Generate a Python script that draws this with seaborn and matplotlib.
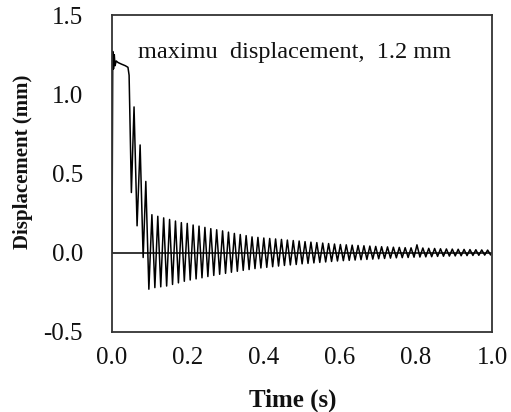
import numpy as np
import pandas as pd
import matplotlib
matplotlib.use("Agg")
import matplotlib.pyplot as plt
import seaborn as sns

# Initial response: time (s), displacement (mm)
t_early = [0.0, 0.002, 0.004, 0.006, 0.008, 0.011, 0.016, 0.025, 0.035, 0.042,
           0.045, 0.051, 0.058, 0.066, 0.074, 0.082, 0.089, 0.097]
v_early = [0.0, 1.27, 1.16, 1.25, 1.18, 1.21, 1.20, 1.19, 1.18, 1.17,
           1.12, 0.38, 0.92, 0.17, 0.68, -0.03, 0.45, -0.23]

# Free-vibration peaks
peak_t = [0.105, 0.1205, 0.136, 0.1515, 0.167, 0.1825, 0.198, 0.2135, 0.229, 0.2445,
          0.26, 0.2755, 0.291, 0.3065, 0.322, 0.3375, 0.353, 0.3685, 0.384, 0.3995,
          0.415, 0.4305, 0.446, 0.4615, 0.477, 0.4925, 0.508, 0.5235, 0.539, 0.5545,
          0.57, 0.5855, 0.601, 0.6165, 0.632, 0.6475, 0.663, 0.6785, 0.694, 0.7095,
          0.725, 0.7405, 0.756, 0.7715, 0.787, 0.8025, 0.818, 0.8335, 0.849, 0.8645,
          0.88, 0.8955, 0.911, 0.9265, 0.942, 0.9575, 0.973, 0.9885]
peak_v = [0.24, 0.23, 0.22, 0.21, 0.20, 0.19, 0.185, 0.175, 0.168, 0.16,
          0.152, 0.145, 0.138, 0.13, 0.122, 0.115, 0.108, 0.10, 0.097, 0.093,
          0.09, 0.087, 0.084, 0.08, 0.077, 0.074, 0.07, 0.067, 0.064, 0.061,
          0.058, 0.055, 0.052, 0.05, 0.048, 0.046, 0.044, 0.042, 0.04, 0.038,
          0.037, 0.035, 0.034, 0.032, 0.031, 0.05, 0.03, 0.028, 0.027, 0.025,
          0.024, 0.023, 0.022, 0.021, 0.02, 0.019, 0.018, 0.017]
# Free-vibration troughs
trough_t = [0.1128, 0.1283, 0.1438, 0.1593, 0.1748, 0.1903, 0.2058, 0.2213, 0.2368, 0.2523,
            0.2678, 0.2833, 0.2988, 0.3143, 0.3298, 0.3453, 0.3608, 0.3763, 0.3918, 0.4073,
            0.4228, 0.4383, 0.4538, 0.4693, 0.4848, 0.5003, 0.5158, 0.5313, 0.5468, 0.5623,
            0.5778, 0.5933, 0.6088, 0.6243, 0.6398, 0.6553, 0.6708, 0.6863, 0.7018, 0.7173,
            0.7328, 0.7483, 0.7638, 0.7793, 0.7948, 0.8103, 0.8258, 0.8413, 0.8568, 0.8723,
            0.8878, 0.9033, 0.9188, 0.9343, 0.9498, 0.9653, 0.9808, 0.9963]
trough_v = [-0.22, -0.215, -0.21, -0.20, -0.19, -0.18, -0.172, -0.165, -0.158, -0.15,
            -0.143, -0.136, -0.13, -0.123, -0.117, -0.111, -0.106, -0.10, -0.096, -0.092,
            -0.088, -0.084, -0.08, -0.077, -0.074, -0.07, -0.067, -0.064, -0.061, -0.058,
            -0.055, -0.052, -0.05, -0.048, -0.046, -0.044, -0.042, -0.04, -0.038, -0.036,
            -0.034, -0.032, -0.031, -0.03, -0.028, -0.027, -0.026, -0.025, -0.023, -0.022,
            -0.021, -0.02, -0.019, -0.018, -0.017, -0.016, -0.015, -0.014]

x_ticks = [0.0, 0.2, 0.4, 0.6, 0.8, 1.0]
y_ticks = [-0.5, 0.0, 0.5, 1.0, 1.5]

# build the series by interleaving peaks and troughs
t_osc, v_osc = [], []
for pt, pv, tt, tv in zip(peak_t, peak_v, trough_t, trough_v):
    t_osc += [pt, tt]
    v_osc += [pv, tv]
df = pd.DataFrame({"Time": t_early + t_osc, "Disp": v_early + v_osc})

sns.set_theme(style="white")
plt.rcParams['font.family'] = ['Liberation Serif', 'DejaVu Serif']

fig = plt.figure(figsize=(5.11, 4.12), dpi=100)
ax = fig.add_axes([112/511, 1-332/412, 380/511, 317/412])

ax.axhline(0, color="black", lw=1.1, zorder=1)
sns.lineplot(data=df, x="Time", y="Disp", ax=ax, color="black", lw=1.1,
             sort=False, estimator=None, zorder=2)

ax.set_xlim(0, 1.0)
ax.set_ylim(-0.5, 1.5)
ax.set_xticks(x_ticks)
ax.set_xticklabels([f"{v:.1f}" for v in x_ticks])
ax.set_yticks(y_ticks)
ax.set_yticklabels([f"{v:.1f}" for v in y_ticks])
ax.tick_params(axis="y", direction="in", length=7, width=1, color="#333333",
               labelsize=18, pad=21, labelcolor="#111111")
ax.tick_params(axis="x", length=0, labelsize=18, pad=11, labelcolor="#111111")
for sp in ax.spines.values():
    sp.set_color("#333333")
    sp.set_linewidth(1.3)
    sp.set_visible(True)

ax.set_xlabel("Time (s)", fontsize=18, fontweight="bold", color="#111111")
ax.set_ylabel("Displacement (mm)", fontsize=15, fontweight="bold", color="#111111")
ax.xaxis.set_label_coords(0.475, -0.178)
ax.yaxis.set_label_coords(-0.208, 0.538)

ax.text(0.068, 1.23, "maximu  displacement,  1.2 mm", fontsize=17.5, color="#111111",
        va="baseline", ha="left")

fig.savefig("out.png", dpi=100)
